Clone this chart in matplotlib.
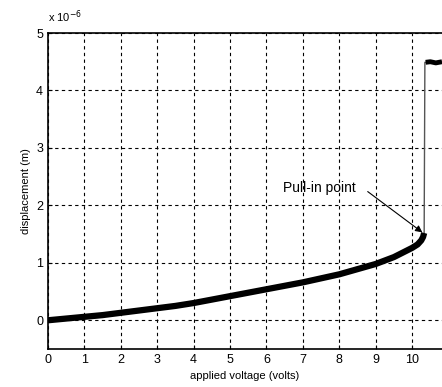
import matplotlib.pyplot as plt
import numpy as np

plt.rcParams['font.family'] = ['Liberation Sans', 'DejaVu Sans']

# applied voltage (V) and displacement (x 1e-6 m)
voltage = [0.0, 0.5, 1.0, 1.5, 2.0, 2.5, 3.0, 3.5, 4.0, 4.5, 5.0, 5.5, 6.0, 6.5,
           7.0, 7.5, 8.0, 8.5, 9.0, 9.5, 10.0, 10.15, 10.25, 10.3, 10.33]
displacement = [0.0, 0.03, 0.06, 0.09, 0.13, 0.17, 0.21, 0.25, 0.30, 0.36, 0.42,
                0.48, 0.54, 0.60, 0.66, 0.73, 0.80, 0.89, 0.98, 1.10, 1.26,
                1.32, 1.39, 1.45, 1.52]

# jump after pull-in
jump_v = [10.33, 10.35, 10.37]
jump_d = [1.52, 4.49, 4.49]
top_v = [10.37, 10.5, 10.65, 10.82]
top_d = [4.49, 4.50, 4.48, 4.50]

fig = plt.figure(figsize=(4.42, 3.87), dpi=100)
ax = fig.add_axes([0.1086, 0.0982, 0.8914, 0.8165])

ax.plot(jump_v, jump_d, color='#555555', lw=1.0)
ax.plot(voltage, displacement, color='black', lw=4.5, solid_capstyle='butt')
ax.plot(top_v, top_d, color='black', lw=3.5, solid_capstyle='butt')

ax.set_xlim(0, 10.82)
ax.set_ylim(-0.5, 5)
ax.set_xticks(range(0, 11))
ax.set_yticks(range(0, 6))
ax.grid(True, color='black', linestyle=(0, (3, 3)), lw=0.8)
ax.tick_params(direction='in', length=3, labelsize=9, width=0.8)
for s in ['left', 'bottom', 'top']:
    ax.spines[s].set_linewidth(1.2)
ax.spines['right'].set_visible(False)

ax.set_xlabel('applied voltage (volts)', fontsize=8)
ax.set_ylabel('displacement (m)', fontsize=8)
ax.text(0.0, 1.035, r'x 10$^{-6}$', transform=ax.transAxes, fontsize=8)

ax.text(6.45, 2.31, 'Pull-in point', fontsize=10, va='center', ha='left')
ax.annotate('', xy=(10.28, 1.53), xytext=(8.78, 2.24),
            arrowprops=dict(arrowstyle='-|>', color='black', lw=0.8,
                            shrinkA=0, shrinkB=0, mutation_scale=10))

fig.savefig('out.png', dpi=100)
